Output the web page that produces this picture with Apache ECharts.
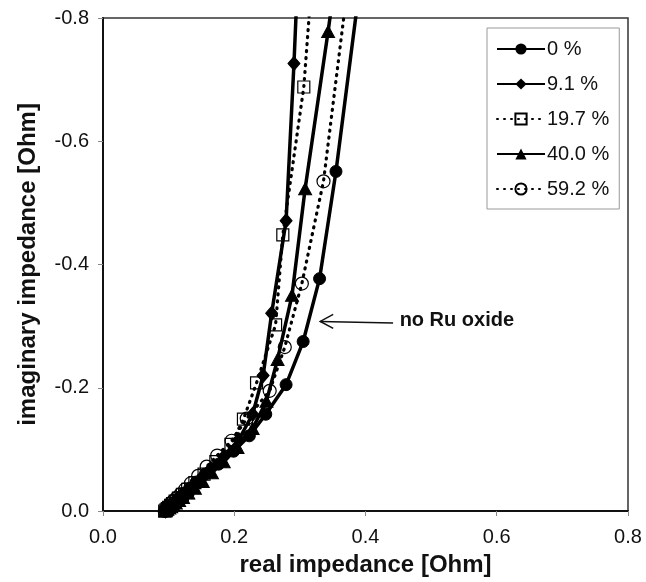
<!DOCTYPE html>
<html><head><meta charset="utf-8">
<script src="https://cdn.jsdelivr.net/npm/echarts@6/dist/echarts.min.js"></script>
<style>html,body{margin:0;padding:0;background:#fff}#c{width:646px;height:582px}</style>
</head><body><div id="c"></div>
<script>
// ---- data (real, imaginary impedance in Ohm) ----
var seriesNames = ['0 %', '9.1 %', '19.7 %', '40.0 %', '59.2 %'];
var xTicks = ['0.0', '0.2', '0.4', '0.6', '0.8'];
var yTicks = ['-0.8', '-0.6', '-0.4', '-0.2', '0.0'];

var re0 = [0.095,0.097,0.099,0.101,0.103,0.106,0.109,0.113,0.118,0.124,0.132,0.142,0.156,0.176,0.199,0.223,0.248,0.279,0.305,0.330,0.355,0.403];
var im0 = [0,-0.002,-0.004,-0.006,-0.008,-0.011,-0.014,-0.018,-0.023,-0.029,-0.037,-0.047,-0.060,-0.076,-0.097,-0.122,-0.157,-0.205,-0.275,-0.377,-0.551,-0.95];

var re9 = [0.095,0.097,0.099,0.101,0.104,0.107,0.111,0.116,0.122,0.129,0.138,0.150,0.164,0.184,0.207,0.228,0.244,0.257,0.279,0.291,0.306];
var im9 = [0,-0.002,-0.004,-0.006,-0.008,-0.011,-0.015,-0.019,-0.025,-0.032,-0.041,-0.053,-0.068,-0.088,-0.116,-0.157,-0.220,-0.321,-0.471,-0.726,-1.1];

var re19 = [0.094,0.096,0.098,0.100,0.103,0.106,0.110,0.115,0.121,0.129,0.140,0.154,0.172,0.195,0.214,0.234,0.263,0.274,0.306,0.328];
var im19 = [0,-0.002,-0.004,-0.006,-0.009,-0.012,-0.016,-0.021,-0.027,-0.035,-0.046,-0.060,-0.080,-0.108,-0.149,-0.208,-0.302,-0.448,-0.688,-1.0];

var re40 = [0.095,0.096,0.098,0.101,0.104,0.107,0.111,0.116,0.122,0.130,0.140,0.152,0.166,0.184,0.205,0.228,0.249,0.266,0.288,0.308,0.343,0.369];
var im40 = [0,-0.001,-0.003,-0.005,-0.007,-0.010,-0.013,-0.017,-0.022,-0.029,-0.037,-0.048,-0.062,-0.080,-0.103,-0.134,-0.178,-0.246,-0.350,-0.523,-0.778,-0.98];

var re59 = [0.094,0.096,0.098,0.100,0.103,0.107,0.112,0.118,0.125,0.134,0.145,0.158,0.174,0.196,0.219,0.254,0.277,0.303,0.336,0.390];
var im59 = [0,-0.003,-0.005,-0.008,-0.012,-0.016,-0.021,-0.027,-0.035,-0.045,-0.057,-0.072,-0.090,-0.114,-0.150,-0.195,-0.266,-0.369,-0.535,-1.0];

function pairs(xs, ys){ return xs.map(function(x,i){ return [x, ys[i]]; }); }

var FONT = '"Liberation Sans", Arial, Helvetica, sans-serif';
var chart = echarts.init(document.getElementById('c'), null, {renderer:'canvas'});

var solid = {color:'#000', width:3.5, type:'solid'};
var dotted = {color:'#000', width:3.2, type:[1, 6], cap:'round'};

var option = {
  animation:false,
  backgroundColor:'#fff',
  grid:{left:103, right:18, top:18, bottom:68, show:true, borderColor:'#333', borderWidth:1.5, backgroundColor:'transparent'},
  xAxis:{type:'value', min:0, max:0.8, interval:0.2,
    name:'real impedance [Ohm]', nameLocation:'middle', nameGap:42,
    nameTextStyle:{fontFamily:FONT, fontSize:24, fontWeight:'bold', color:'#111'},
    axisLine:{show:true, onZero:false, lineStyle:{color:'#111', width:2}},
    axisTick:{show:true, inside:false, length:5, lineStyle:{color:'#888', width:1}},
    axisLabel:{fontFamily:FONT, fontSize:20, color:'#111', margin:16,
      formatter:function(v){ return xTicks[Math.round(v/0.2)]; }},
    splitLine:{show:false}},
  yAxis:{type:'value', min:-0.8, max:0, interval:0.2, inverse:true,
    name:'imaginary impedance [Ohm]', nameLocation:'middle', nameGap:63,
    nameTextStyle:{fontFamily:FONT, fontSize:24, fontWeight:'bold', color:'#111'},
    axisLine:{show:true, onZero:false, lineStyle:{color:'#111', width:2}},
    axisTick:{show:true, inside:false, length:5, lineStyle:{color:'#888', width:1}},
    axisLabel:{fontFamily:FONT, fontSize:20, color:'#111', margin:14,
      formatter:function(v){ return yTicks[Math.round((v+0.8)/0.2)]; }},
    splitLine:{show:false}},
  legend:{orient:'vertical', left:487, top:28, padding:[11,10,10,9],
    borderColor:'#999', borderWidth:1, backgroundColor:'#fff',
    itemWidth:48, itemHeight:14, itemGap:15,
    textStyle:{fontFamily:FONT, fontSize:20, color:'#111', padding:[0,0,0,-3]},
    data:seriesNames},
  series:[
    {name:seriesNames[0], type:'line', data:pairs(re0,im0), symbol:'circle', symbolSize:12,
      lineStyle:solid, itemStyle:{color:'#000', borderColor:'#000'}, clip:true, z:5},
    {name:seriesNames[1], type:'line', data:pairs(re9,im9), symbol:'diamond', symbolSize:[12,14],
      lineStyle:solid, itemStyle:{color:'#000', borderColor:'#000'}, clip:true, z:6},
    {name:seriesNames[2], type:'line', data:pairs(re19,im19), symbol:'rect', symbolSize:12,
      lineStyle:dotted, itemStyle:{color:'rgba(255,255,255,0)', borderColor:'#000', borderWidth:1.2}, clip:true, z:7},
    {name:seriesNames[3], type:'line', data:pairs(re40,im40), symbol:'triangle', symbolSize:[13,12],
      lineStyle:solid, itemStyle:{color:'#000', borderColor:'#000'}, clip:true, z:8},
    {name:seriesNames[4], type:'line', data:pairs(re59,im59), symbol:'circle', symbolSize:13,
      lineStyle:dotted, itemStyle:{color:'rgba(255,255,255,0)', borderColor:'#000', borderWidth:1.2}, clip:true, z:9}
  ]
};
chart.setOption(option);

// annotation "no Ru oxide" with arrow, anchored in data space
var tip = chart.convertToPixel({gridIndex:0}, [0.331, -0.3076]);
var tail = chart.convertToPixel({gridIndex:0}, [0.442, -0.305]);
var txt = chart.convertToPixel({gridIndex:0}, [0.452, -0.309]);
chart.setOption({graphic:[
  {type:'line', shape:{x1:tail[0], y1:tail[1], x2:tip[0], y2:tip[1]}, style:{stroke:'#111', lineWidth:1.5}, z:20},
  {type:'polyline', shape:{points:[[tip[0]+13, tip[1]-7],[tip[0], tip[1]],[tip[0]+13, tip[1]+7]]}, style:{stroke:'#111', lineWidth:1.5, fill:null}, z:20},
  {type:'text', x:txt[0], y:txt[1], style:{text:'no Ru oxide', fontFamily:FONT, fontSize:20, fontWeight:'bold', fill:'#111', verticalAlign:'middle', align:'left'}, z:20}
]});
</script></body></html>
